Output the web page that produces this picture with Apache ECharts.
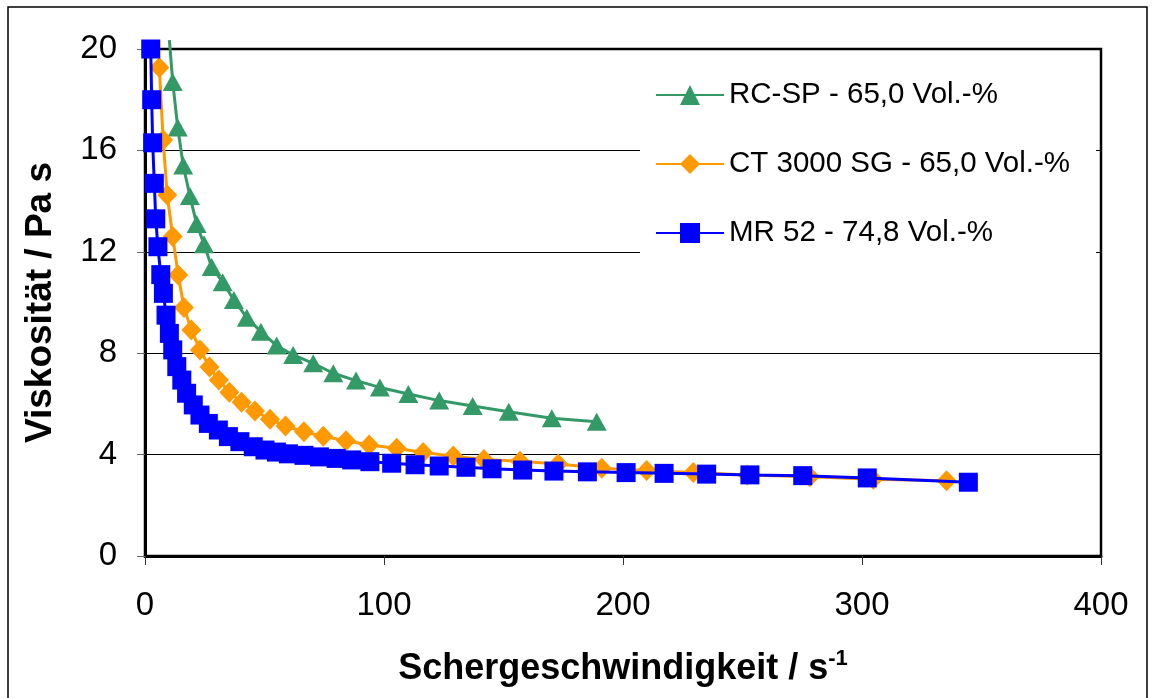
<!DOCTYPE html>
<html>
<head>
<meta charset="utf-8">
<script src="https://cdn.jsdelivr.net/npm/echarts@6/dist/echarts.min.js"></script>
<style>
html,body{margin:0;padding:0;background:#fff;}
#chart{width:1155px;height:698px;}
</style>
</head>
<body>
<div id="chart"></div>
<script>
// Series names
const seriesNames = ['RC-SP - 65,0 Vol.-%', 'CT 3000 SG - 65,0 Vol.-%', 'MR 52 - 74,8 Vol.-%'];

// RC-SP (green triangles): [shear rate, viscosity]; first point continues above the axis top (no marker)
const rcspData = [
  [10.2,20.35],[11.6,18.7],[13.7,16.9],[16.0,15.4],[18.8,14.2],[21.6,13.1],[24.7,12.3],[27.9,11.4],
  [32.5,10.8],[37.2,10.1],[42.6,9.4],[48.5,8.85],[55.1,8.3],[62.0,7.93],[70.4,7.6],[78.8,7.21],
  [88.3,6.92],[98.3,6.65],[110.2,6.39],[123.1,6.13],[137.1,5.92],[152.2,5.69],[170.2,5.43],[189.0,5.3]
];

// CT 3000 SG (orange diamonds)
const ctData = [
  [6.0,19.27],[7.6,16.41],[9.3,14.24],[11.6,12.6],[13.9,11.08],[16.3,9.8],[19.4,8.92],[23.0,8.13],
  [27.0,7.46],[30.9,6.94],[35.3,6.46],[40.4,6.07],[46.0,5.72],[52.3,5.39],[58.8,5.13],[66.5,4.9],
  [74.6,4.72],[84.1,4.55],[93.8,4.38],[105.3,4.25],[116.4,4.08],[129.0,3.94],[141.8,3.81],[156.9,3.74],
  [172.9,3.63],[191.1,3.46],[209.9,3.37],[229.4,3.29],[252.0,3.2],[278.2,3.13],[304.7,3.03],[335.4,2.97]
];

// MR 52 (blue squares)
const mrData = [
  [2.4,20.0],[2.8,18.0],[3.2,16.3],[3.9,14.7],[4.5,13.3],[5.4,12.2],[6.6,11.1],[7.7,10.36],
  [8.8,9.5],[10.2,8.78],[11.6,8.13],[13.3,7.47],[15.4,6.94],[17.4,6.42],[20.2,5.96],[23.0,5.56],
  [26.5,5.23],[30.7,4.97],[34.9,4.71],[39.7,4.51],[45.3,4.31],[50.2,4.18],[55.0,4.1],[60.0,4.03],
  [66.5,3.97],[73.0,3.91],[80.0,3.85],[86.5,3.79],[94.1,3.72],[103.2,3.66],[113.0,3.6],[123.1,3.55],
  [134.3,3.5],[145.2,3.44],[158.0,3.39],[171.1,3.35],[185.1,3.32],[201.3,3.29],[217.2,3.26],[235.0,3.23],
  [253.1,3.2],[275.2,3.17],[302.2,3.08],[344.5,2.91]
];

// Axis ranges / ticks
const xMin = 0, xMax = 400, xStep = 100;
const yMin = 0, yMax = 20, yStep = 4;

const FONT = '"Liberation Sans", Arial, sans-serif';

const chart = echarts.init(document.getElementById('chart'));

const greenSeriesData = rcspData.map((d, i) => i === 0 ? {value: d, symbol: 'none'} : d);

chart.setOption({
  animation: false,
  backgroundColor: '#fff',
  graphic: [{
    type: 'rect',
    shape: {x: 8, y: 7, width: 1139, height: 720},
    style: {fill: 'none', stroke: '#000', lineWidth: 1.5},
    silent: true,
    z: -10
  }],
  grid: {
    left: 145, right: 54, top: 49, bottom: 142,
    show: true, borderColor: '#000', borderWidth: 2.5, backgroundColor: 'transparent'
  },
  legend: {
    orient: 'vertical',
    left: 640, top: 60,
    padding: [20, 26, 20, 15],
    backgroundColor: '#fff',
    itemWidth: 68, itemHeight: 25,
    itemGap: 39,
    textStyle: {fontFamily: FONT, fontSize: 29.5, color: '#000', lineHeight: 30},
    data: seriesNames,
    z: 10
  },
  xAxis: {
    type: 'value', min: xMin, max: xMax, interval: xStep,
    axisLine: {show: true, lineStyle: {color: '#000', width: 3}},
    axisTick: {show: true, inside: false, length: 9, lineStyle: {color: '#333', width: 1}},
    axisLabel: {fontFamily: FONT, fontSize: 33, color: '#000', margin: 33},
    splitLine: {show: false},
    name: '{t|Schergeschwindigkeit / s}{s|-1}',
    nameLocation: 'middle',
    nameGap: 92,
    nameTextStyle: {
      rich: {
        t: {fontFamily: FONT, fontSize: 36, fontWeight: 'bold', color: '#000', lineHeight: 42},
        s: {fontFamily: FONT, fontSize: 22, fontWeight: 'bold', color: '#000', verticalAlign: 'top', lineHeight: 22}
      }
    }
  },
  yAxis: {
    type: 'value', min: yMin, max: yMax, interval: yStep,
    axisLine: {show: true, lineStyle: {color: '#000', width: 3}},
    axisTick: {show: true, inside: false, length: 8, lineStyle: {color: '#666', width: 1}},
    axisLabel: {fontFamily: FONT, fontSize: 33, color: '#000', margin: 28},
    splitLine: {show: true, lineStyle: {color: '#000', width: 1}},
    name: 'Viskosität / Pa s',
    nameLocation: 'middle',
    nameGap: 86,
    nameTextStyle: {fontFamily: FONT, fontSize: 37, fontWeight: 'bold', color: '#000'}
  },
  series: [
    {
      name: seriesNames[0], type: 'line', data: greenSeriesData, clip: false,
      symbol: 'triangle', symbolSize: [20, 18],
      lineStyle: {color: '#339966', width: 3},
      itemStyle: {color: '#339966'},
      z: 2
    },
    {
      name: seriesNames[1], type: 'line', data: ctData, clip: false,
      symbol: 'diamond', symbolSize: [20, 21],
      lineStyle: {color: '#FF9900', width: 3},
      itemStyle: {color: '#FF9900'},
      z: 3
    },
    {
      name: seriesNames[2], type: 'line', data: mrData, clip: false,
      symbol: 'rect', symbolSize: 19,
      lineStyle: {color: '#0000FF', width: 3},
      itemStyle: {color: '#0000FF'},
      z: 4
    }
  ]
});
</script>
</body>
</html>
